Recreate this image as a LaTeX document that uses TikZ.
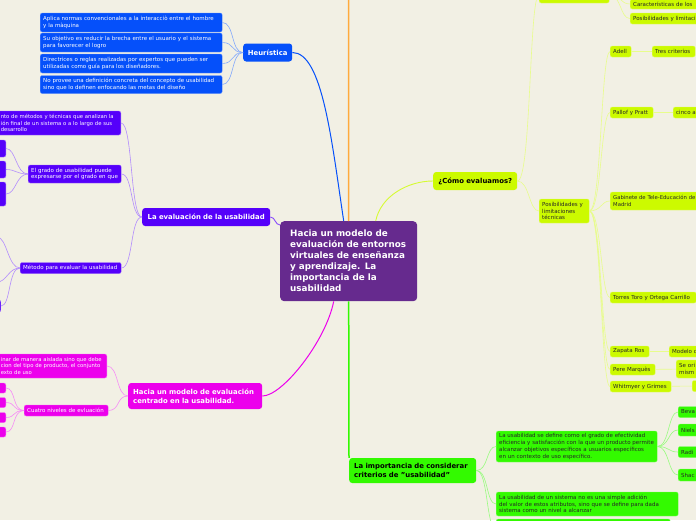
\documentclass[tikz,border=0pt]{standalone}
\usepackage{fontspec}
\setmainfont{DejaVu Sans}
\usetikzlibrary{calc}

\definecolor{bgc}{RGB}{242,240,228}
\definecolor{cpur}{RGB}{102,42,142}
\definecolor{cblu}{RGB}{5,80,250}
\definecolor{cvio}{RGB}{85,0,250}
\definecolor{cmag}{RGB}{236,0,236}
\definecolor{cgrn}{RGB}{51,250,0}
\definecolor{cyel}{RGB}{204,250,0}
\definecolor{corg}{RGB}{255,170,60}

\begin{document}
\begin{tikzpicture}[x=1pt, y=1pt,
  bx/.style={rounded corners=2pt, anchor=west, align=left, inner xsep=3pt, inner ysep=0pt, minimum height=11pt, line width=0.4pt, font=\fontsize{5.5}{6.8}\selectfont},
  tp/.style={rounded corners=3pt, anchor=west, align=center, inner xsep=3pt, inner ysep=0pt, minimum height=18pt, line width=0.4pt, font=\fontsize{6.9}{9}\selectfont\bfseries},
  nb/.style={bx, fill=cblu, draw=cblu!60!white, text=white},
  np/.style={bx, fill=cvio, draw=cvio!60!white, text=white},
  nm/.style={bx, fill=cmag, draw=cmag!60!white, text=white},
  ng/.style={bx, fill=cgrn, draw=cgrn!60!white, text=black!85},
  ny/.style={bx, fill=cyel, draw=cyel!60!white, text=black!85},
  lb/.style={draw=cblu!50!white, line width=0.6pt},
  lp/.style={draw=cvio!45!white, line width=0.6pt},
  lm/.style={draw=cmag!45!white, line width=0.6pt},
  lg/.style={draw=cgrn!50!white, line width=0.6pt},
  ly/.style={draw=cyel!45!white, line width=0.6pt}]
\fill[bgc] (0,0) rectangle (696,-520);
\useasboundingbox (0,0) rectangle (696,-520);

% central topic
\node[fill=cpur, text=white, rounded corners=4pt, anchor=north west, align=left, text width=117pt, minimum height=80pt, inner xsep=10pt, inner ysep=0pt, font=\fontsize{8.8}{11}\selectfont\bfseries] (c) at (280,-221) {Hacia un modelo de\\evaluación de entornos\\virtuales de enseñanza\\y aprendizaje. La\\importancia de la\\usabilidad};

% Heuristica
\node[tp, fill=cblu, text=white, text width=43pt] (heur) at (243,-52.5) {Heurística};
\node[nb, text width=176pt, minimum height=19pt] (h1) at (40,-22.5) {Aplica normas convencionales a la interacciò entre el hombre\\y la màquina};
\node[nb, text width=176pt, minimum height=19pt] (h2) at (40,-42.5) {Su objetivo es reducir la brecha entre el usuario y el sistema\\para favorecer el logro};
\node[nb, text width=176pt, minimum height=19pt] (h3) at (40,-63.5) {Directrices o reglas realizadas por expertos que pueden ser\\utilizadas como guía para los diseñadores.};
\node[nb, text width=176pt, minimum height=18pt] (h4) at (40,-84.5) {No provee una definición concreta del concepto de usabilidad\\sino que lo definen enfocando las metas del diseño};

% evaluacion
\node[tp, fill=cvio, text=white, text width=122pt] (ev) at (142,-217) {La evaluación de la usabilidad};
\node[np, anchor=east, text width=117pt, minimum height=24pt, font=\fontsize{5.3}{6.8}\selectfont] (ev1) at (121,-123) {nto de métodos y técnicas que analizan la\\ión final de un sistema o a lo largo de sus\\desarrollo};
\node[np, text width=87pt, minimum height=18pt] (ev2) at (28,-174) {El grado de usabilidad puede\\expresarse por el grado en que};
\node[np, anchor=east, text width=14pt, minimum height=17pt] (ev2a) at (6,-148.5) {};
\node[np, anchor=east, text width=14pt, minimum height=17pt] (ev2b) at (6,-169.5) {};
\node[np, anchor=east, text width=14pt, minimum height=24pt] (ev2c) at (6,-194) {};
\node[np, text width=95pt] (ev3) at (20,-268) {Método para evaluar la usabilidad};
\coordinate (m1) at (-3,-237);
\coordinate (m2) at (-3,-282);
\node[np, anchor=east, text width=6pt, minimum height=12pt] (m3) at (1,-306) {};

% modelo centrado
\node[tp, fill=cmag, text=white, align=left, inner xsep=5pt, text width=124pt, minimum height=26pt] (mg) at (128,-396) {Hacia un modelo de evaluación\\centrado en la usabilidad.};
\node[nm, anchor=east, text width=103pt, minimum height=24pt, font=\fontsize{5.3}{6.8}\selectfont] (mg1) at (107,-366) {inar de manera aislada sino que debe\\cion del tipo de producto, el conjunto\\exto de uso};
\node[nm, text width=78pt] (mg2) at (24,-410.5) {Cuatro niveles de evluación};
\node[nm, anchor=east, text width=10pt, minimum height=10pt] (mga) at (6,-388) {};
\node[nm, anchor=east, text width=10pt, minimum height=10pt] (mgb) at (6,-402.5) {};
\node[nm, anchor=east, text width=10pt, minimum height=10pt] (mgc) at (6,-417.5) {};
\node[nm, anchor=east, text width=10pt, minimum height=10pt] (mgd) at (6,-432) {};

% importancia
\node[tp, fill=cgrn, text=black, align=left, inner xsep=5pt, text width=117pt, minimum height=25pt] (imp) at (349,-470.5) {La importancia de considerar\\criterios de "usabilidad"};
\node[ng, text width=155pt, minimum height=31pt] (g1) at (496,-446.5) {La usabilidad se define como el grado de efectividad\\eficiencia y satisfacción con la que un producto permite\\alcanzar objetivos específicos a usuarios específicos\\en un contexto de uso específico.};
\node[ng, text width=176pt, minimum height=24pt] (g2) at (496,-504) {La usabilidad de un sistema no es una simple adición\\del valor de estos atributos, sino que se define para dada\\sistema como un nivel a alcanzar};
\node[ng, text width=168pt, minimum height=20pt] (g3) at (496,-529) {};
\node[ng, text width=24pt] (gb1) at (678,-412) {Beva};
\node[ng, text width=24pt, minimum height=12pt] (gb2) at (678,-430) {Niels};
\node[ng, text width=24pt] (gb3) at (678,-452) {Radi};
\node[ng, text width=24pt, minimum height=12pt] (gb4) at (678,-475) {Shac};

% como evaluamos
\node[tp, fill=cyel, text=black, text width=78pt] (como) at (433,-181) {¿Cómo evaluamos?};
\node[ny, text width=64pt, minimum height=16pt] (como1) at (539,5) {};
\node[ny, text width=74pt, minimum height=10pt] (car) at (630,-4) {Características de los};
\node[ny, text width=74pt] (posl) at (630,-18.5) {Posibilidades y limitaci};
\node[ny, text width=44pt, minimum height=24pt] (pos) at (539,-211) {Posibilidades y\\limitaciones\\técnicas};
\node[ny, text width=15pt] (adell) at (610,-51.5) {Adell};
\node[ny, text width=37pt] (tres) at (652,-51.5) {Tres criterios};
\node[ny, text width=37pt] (pallof) at (610,-112.5) {Pallof y Pratt};
\node[ny, text width=34pt] (cinco) at (673,-112.5) {cinco a};
\node[ny, text width=104pt, minimum height=18pt, font=\fontsize{5.3}{6.8}\selectfont] (gab) at (610,-201) {Gabinete de Tele-Educación de\\Madrid};
\node[ny, text width=80pt] (torres) at (610,-297.5) {Torres Toro y Ortega Carrillo};
\node[ny, text width=33pt] (zapata) at (610,-351.5) {Zapata Ros};
\node[ny, text width=38pt] (modelo) at (669,-351.5) {Modelo d};
\node[ny, text width=39pt] (pere) at (610,-369.5) {Pere Marquès};
\node[ny, text width=34pt, minimum height=18pt] (seori) at (676,-369) {Se ori\\mism};
\node[ny, text width=55pt] (whit) at (610,-386.5) {Whitmyer y Grimes};
\node[ny, text width=18pt] (wc) at (692,-386) {};

% main branches
\coordinate (otop) at (348.5,8);
\draw[corg, line width=1.5pt] (c.north) -- (otop);
\draw[cblu, line width=1pt] (heur.east) .. controls +(30,0) and +(-12,80) .. ($(c.north)+(-5,0)$);
\draw[cvio!70!white, line width=0.9pt] (ev.east) .. controls +(5,0) and +(-5,0) .. ($(c.north west)+(0,-4)$);
\draw[cmag, line width=1pt] (mg.east) .. controls +(20,0) and +(-8,-40) .. ($(c.south)+(-15,0)$);
\draw[cgrn, line width=1.5pt] (c.south) -- (imp.north west);
\draw[cyel!80!white, line width=0.9pt] ($(c.north)+(27,0)$) .. controls +(5,25) and +(-25,0) .. (como.west);

% sub branches
\draw[lb] (heur.west) .. controls +(-12,0) and +(12,0) .. (h1.east); \draw[lb] (heur.west) .. controls +(-12,0) and +(12,0) .. (h2.east);
\draw[lb] (heur.west) .. controls +(-12,0) and +(12,0) .. (h3.east); \draw[lb] (heur.west) .. controls +(-12,0) and +(12,0) .. (h4.east);
\draw[lp] (ev.west) .. controls +(-12,0) and +(12,0) .. (ev1.east); \draw[lp] (ev.west) .. controls +(-12,0) and +(12,0) .. (ev2.east);
\draw[lp] (ev.west) .. controls +(-12,0) and +(12,0) .. (ev3.east);
\draw[lp] (ev2.west) .. controls +(-12,0) and +(10,0) .. (ev2a.east); \draw[lp] (ev2.west) .. controls +(-12,0) and +(10,0) .. (ev2b.east);
\draw[lp] (ev2.west) .. controls +(-12,0) and +(10,0) .. (ev2c.east);
\draw[lp] (ev3.west) .. controls +(-12,0) and +(10,0) .. (m1); \draw[lp] (ev3.west) .. controls +(-12,0) and +(10,0) .. (m2);
\draw[lp] (ev3.west) .. controls +(-12,0) and +(10,0) .. (m3.east);
\draw[lm] (mg.west) .. controls +(-12,0) and +(12,0) .. (mg1.east); \draw[lm] (mg.west) .. controls +(-12,0) and +(12,0) .. (mg2.east);
\draw[lm] (mg2.west) .. controls +(-12,0) and +(10,0) .. (mga.east); \draw[lm] (mg2.west) .. controls +(-12,0) and +(10,0) .. (mgb.east);
\draw[lm] (mg2.west) .. controls +(-12,0) and +(10,0) .. (mgc.east); \draw[lm] (mg2.west) .. controls +(-12,0) and +(10,0) .. (mgd.east);
\draw[lg] (imp.east) .. controls +(12,0) and +(-10,0) .. (g1.west); \draw[lg] (imp.east) .. controls +(12,0) and +(-10,0) .. (g2.west);
\draw[lg] (imp.east) .. controls +(12,0) and +(-10,0) .. (g3.west);
\draw[lg] (g1.east) .. controls +(12,0) and +(-10,0) .. (gb1.west); \draw[lg] (g1.east) .. controls +(12,0) and +(-10,0) .. (gb2.west);
\draw[lg] (g1.east) .. controls +(12,0) and +(-10,0) .. (gb3.west); \draw[lg] (g1.east) .. controls +(12,0) and +(-10,0) .. (gb4.west);
\draw[ly] (como.east) .. controls +(14,0) and +(-10,0) .. (como1.west); \draw[ly] (como.east) .. controls +(12,0) and +(-10,0) .. (pos.west);
\draw[ly] (como1.east) .. controls +(12,0) and +(-10,0) .. (car.west); \draw[ly] (como1.east) .. controls +(12,0) and +(-10,0) .. (posl.west);
\draw[ly] (pos.east) .. controls +(12,0) and +(-9,0) .. (adell.west); \draw[ly] (pos.east) .. controls +(12,0) and +(-9,0) .. (pallof.west);
\draw[ly] (pos.east) .. controls +(12,0) and +(-9,0) .. (gab.west); \draw[ly] (pos.east) .. controls +(12,0) and +(-9,0) .. (torres.west);
\draw[ly] (pos.east) .. controls +(12,0) and +(-9,0) .. (zapata.west); \draw[ly] (pos.east) .. controls +(12,0) and +(-9,0) .. (pere.west);
\draw[ly] (pos.east) .. controls +(12,0) and +(-9,0) .. (whit.west);
\draw[ly] (adell) -- (tres); \draw[ly] (pallof) -- (cinco); \draw[ly] (zapata) -- (modelo);
\draw[ly] (pere) -- (seori); \draw[ly] (whit) -- (wc);
\end{tikzpicture}
\end{document}
